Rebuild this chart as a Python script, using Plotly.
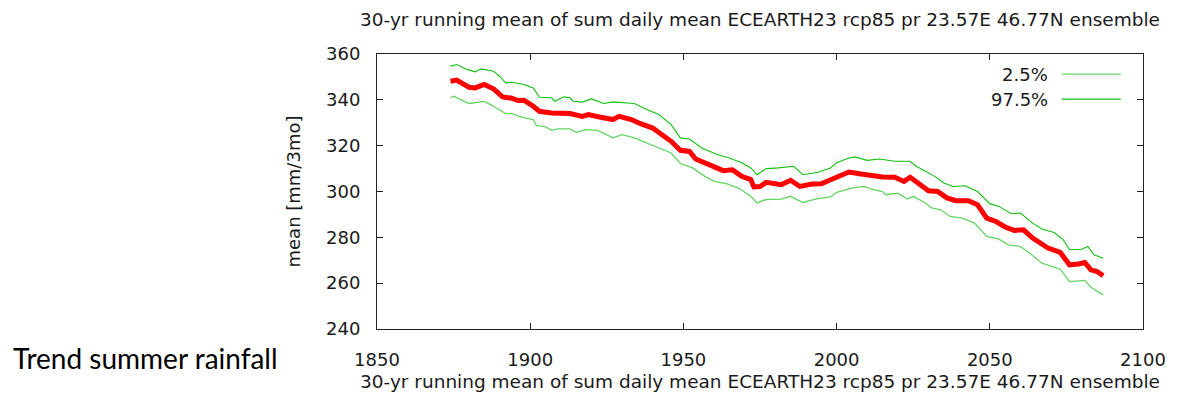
import plotly.graph_objects as go

# 30-yr running mean of summer precipitation, ensemble mean and 2.5/97.5% quantiles
mean_years = [1874, 1876, 1880, 1882, 1885, 1888, 1891, 1894, 1896, 1898, 1901, 1903, 1907, 1910,
              1913, 1917, 1919, 1923, 1927, 1929, 1933, 1936, 1940, 1943, 1946, 1949, 1952, 1954,
              1957, 1960, 1963, 1966, 1969, 1972, 1973, 1975, 1977, 1982, 1985, 1988, 1992, 1995,
              1998, 2001, 2004, 2008, 2012, 2015, 2019, 2022, 2024, 2027, 2030, 2033, 2036, 2039,
              2043, 2046, 2049, 2052, 2055, 2058, 2061, 2064, 2067, 2069, 2073, 2076, 2079, 2081,
              2083, 2085, 2087]
mean_vals = [348.1, 348.6, 345.5, 345.2, 346.7, 344.8, 341.3, 340.7, 339.7, 339.8, 337.2, 335.0,
             334.3, 334.0, 334.0, 332.8, 333.6, 332.4, 331.4, 332.8, 331.4, 329.6, 327.7, 324.8,
             321.9, 318.0, 317.5, 314.2, 312.5, 310.7, 309.1, 309.5, 306.6, 305.2, 302.0, 302.2,
             304.0, 303.0, 304.9, 302.2, 303.3, 303.4, 305.2, 306.6, 308.5, 307.6, 306.9, 306.3,
             306.2, 304.4, 306.2, 303.4, 300.3, 300.0, 297.2, 296.0, 296.0, 294.2, 288.4, 286.9,
             284.5, 283.0, 283.3, 279.7, 276.7, 275.3, 273.4, 268.0, 268.4, 269.0, 265.8, 265.1,
             263.2]

p975_years = [1874, 1876, 1879, 1882, 1884, 1887, 1888, 1890, 1892, 1894, 1898, 1901, 1903, 1907,
              1908, 1911, 1913, 1914, 1917, 1920, 1924, 1927, 1930, 1934, 1938, 1942, 1946, 1949,
              1952, 1956, 1961, 1965, 1969, 1972, 1974, 1977, 1981, 1986, 1989, 1994, 1998, 2000,
              2004, 2006, 2010, 2014, 2019, 2024, 2026, 2029, 2032, 2035, 2038, 2042, 2046, 2050,
              2053, 2057, 2060, 2064, 2067, 2071, 2074, 2076, 2080, 2082, 2084, 2087]
p975_vals = [354.7, 355.4, 353.5, 352.2, 353.5, 352.5, 352.5, 350.3, 347.4, 347.7, 346.7, 345.2,
             341.1, 340.9, 339.4, 341.3, 340.9, 339.4, 339.0, 340.4, 338.4, 339.1, 338.7, 338.4,
             335.8, 333.6, 329.2, 323.4, 322.9, 319.0, 316.1, 314.6, 312.5, 310.3, 307.3, 310.0,
             310.3, 311.0, 307.3, 308.4, 310.3, 312.5, 314.6, 315.1, 313.6, 314.2, 313.2, 313.2,
             311.0, 308.8, 306.6, 303.7, 302.2, 302.5, 300.0, 294.7, 293.5, 290.3, 290.6, 286.2,
             283.6, 282.1, 278.9, 274.6, 274.8, 276.0, 272.4, 270.9]

p025_years = [1874, 1875, 1880, 1885, 1887, 1888, 1892, 1894, 1898, 1901, 1902, 1905, 1907, 1909,
              1913, 1915, 1918, 1922, 1927, 1930, 1934, 1938, 1942, 1946, 1949, 1952, 1953, 1957,
              1960, 1964, 1968, 1972, 1974, 1977, 1982, 1985, 1989, 1993, 1998, 2000, 2005, 2009,
              2012, 2015, 2016, 2020, 2023, 2025, 2029, 2031, 2034, 2037, 2041, 2045, 2049, 2053,
              2056, 2060, 2063, 2067, 2073, 2076, 2081, 2083, 2087]
p025_vals = [340.9, 341.6, 338.4, 339.3, 337.9, 337.2, 334.0, 334.0, 332.1, 331.4, 328.8, 328.2,
             326.7, 327.3, 327.3, 325.8, 327.0, 326.7, 323.4, 324.8, 323.4, 321.2, 319.0, 316.8,
             312.2, 311.0, 310.3, 306.6, 304.4, 303.4, 301.5, 297.9, 295.0, 296.5, 296.7, 297.9,
             295.2, 296.7, 297.6, 299.6, 301.5, 302.2, 300.8, 300.0, 298.6, 299.3, 296.7, 297.9,
             295.0, 292.8, 292.0, 289.1, 288.4, 286.2, 280.4, 279.2, 276.7, 276.0, 273.1, 268.7,
             266.1, 260.7, 261.2, 258.2, 254.9]

x_ticks = [1850, 1900, 1950, 2000, 2050, 2100]
y_ticks = [240, 260, 280, 300, 320, 340, 360]

TITLE = "30-yr running mean of sum daily mean ECEARTH23 rcp85 pr 23.57E 46.77N ensemble"
FONT = "DejaVu Sans"
TXT = "#1a1a1a"
GREEN_LO = "#64d464"
GREEN_HI = "#12c012"

fig = go.Figure()
fig.add_trace(go.Scatter(x=p025_years, y=p025_vals, mode="lines", name="2.5%",
                         line=dict(color=GREEN_LO, width=1.3)))
fig.add_trace(go.Scatter(x=p975_years, y=p975_vals, mode="lines", name="97.5%",
                         line=dict(color=GREEN_HI, width=1.1)))
fig.add_trace(go.Scatter(x=mean_years, y=mean_vals, mode="lines", name="mean",
                         line=dict(color="#ff0000", width=5)))

axis_common = dict(showgrid=False, zeroline=False, showline=True, linecolor="#222222",
                   linewidth=1, mirror="ticks", ticks="inside", ticklen=6, tickwidth=1,
                   tickcolor="#222222", tickfont=dict(family=FONT, size=18, color=TXT))

fig.update_xaxes(range=[1850, 2100], tickvals=x_ticks, ticklabelstandoff=14, **axis_common)
fig.update_yaxes(range=[240, 360], tickvals=y_ticks, ticklabelstandoff=12, **axis_common)

# legend drawn gnuplot-style: label on the left, line sample on the right
legend_rows = [("2.5%", GREEN_LO, 1.3, 0.927), ("97.5%", GREEN_HI, 1.1, 0.836)]
shapes = []
annotations = []
for label, color, width, ypos in legend_rows:
    annotations.append(dict(text=label, xref="paper", yref="paper", x=0.879, y=ypos,
                            xanchor="right", yanchor="middle", showarrow=False,
                            font=dict(family=FONT, size=18, color=TXT)))
    shapes.append(dict(type="line", xref="paper", yref="paper", x0=0.894, x1=0.971,
                       y0=ypos, y1=ypos, line=dict(color=color, width=width)))

annotations += [
    dict(text=TITLE, xref="paper", yref="paper", x=0.5, y=1.0, yshift=35,
         xanchor="center", yanchor="middle", showarrow=False,
         font=dict(family=FONT, size=18.5, color=TXT)),
    dict(text=TITLE, xref="paper", yref="paper", x=0.5, y=0.0, yshift=-52,
         xanchor="center", yanchor="middle", showarrow=False,
         font=dict(family=FONT, size=18.5, color=TXT)),
    dict(text="mean [mm/3mo]", xref="paper", yref="paper", x=0.0, xshift=-84, y=0.5,
         textangle=-90, xanchor="center", yanchor="middle", showarrow=False,
         font=dict(family=FONT, size=18, color=TXT)),
    dict(text="Trend summer rainfall", xref="paper", yref="paper", x=0.0, xshift=-366,
         y=0.0, yshift=-29, xanchor="left", yanchor="middle", showarrow=False,
         font=dict(family="Lato", size=28, color="#000000")),
]

fig.update_layout(
    width=1178, height=398,
    margin=dict(l=377, r=30, t=54, b=69),
    paper_bgcolor="white", plot_bgcolor="white",
    showlegend=False,
    shapes=shapes, annotations=annotations,
)

fig.write_html("out.html")
